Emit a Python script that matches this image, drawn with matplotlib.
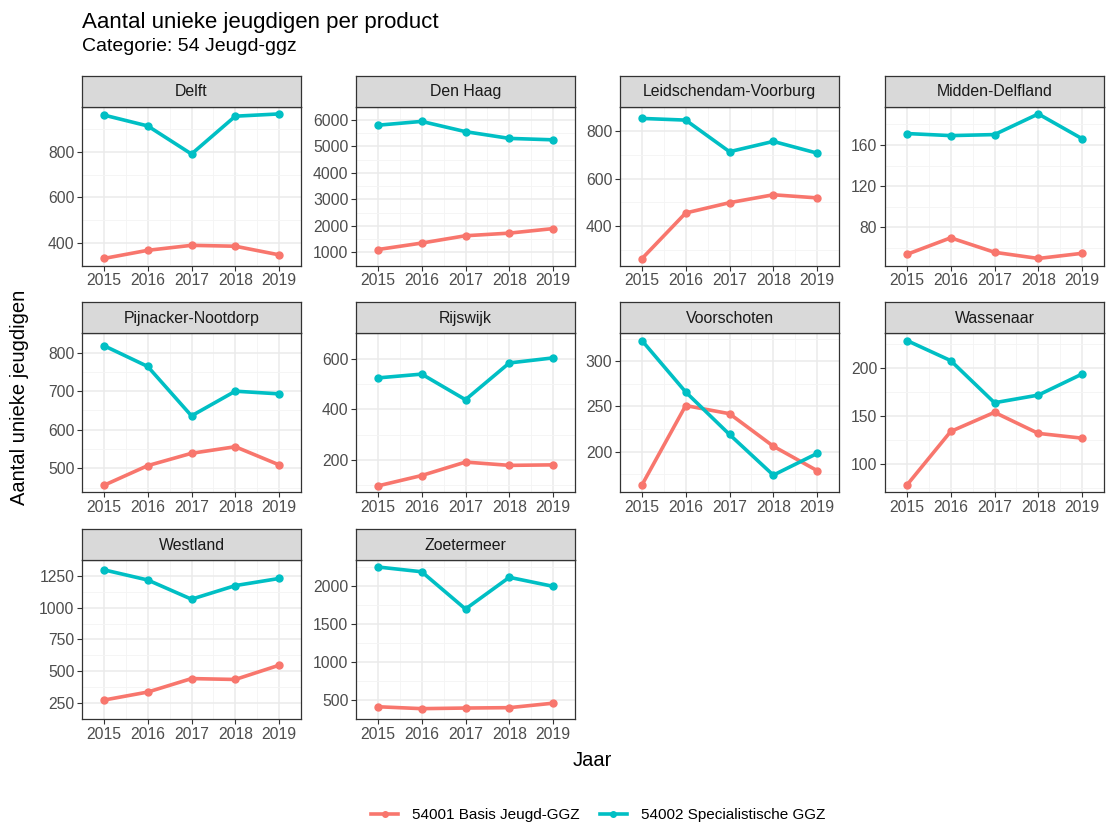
import numpy as np
import matplotlib
matplotlib.use("Agg")
import matplotlib.pyplot as plt
from matplotlib.lines import Line2D

plt.rcParams['font.family'] = ['Liberation Sans', 'DejaVu Sans']

jaren = [2015, 2016, 2017, 2018, 2019]
gemeenten = ['Delft', 'Den Haag', 'Leidschendam-Voorburg', 'Midden-Delfland',
             'Pijnacker-Nootdorp', 'Rijswijk', 'Voorschoten', 'Wassenaar',
             'Westland', 'Zoetermeer']
producten = ['54001 Basis Jeugd-GGZ', '54002 Specialistische GGZ']

# 54001 Basis Jeugd-GGZ
basis = {
    'Delft': [330, 366, 388, 384, 346],
    'Den Haag': [1110, 1354, 1630, 1729, 1900],
    'Leidschendam-Voorburg': [265, 456, 499, 532, 519],
    'Midden-Delfland': [54, 70, 56, 50, 55],
    'Pijnacker-Nootdorp': [456, 507, 539, 556, 509],
    'Rijswijk': [98, 139, 192, 179, 181],
    'Voorschoten': [163, 251, 242, 206, 179],
    'Wassenaar': [78, 134, 154, 132, 127],
    'Westland': [273, 336, 442, 435, 547],
    'Zoetermeer': [410, 385, 393, 398, 457],
}
# 54002 Specialistische GGZ
specialistisch = {
    'Delft': [963, 915, 791, 958, 968],
    'Den Haag': [5802, 5945, 5558, 5304, 5250],
    'Leidschendam-Voorburg': [851, 844, 712, 755, 706],
    'Midden-Delfland': [171, 169, 170, 190, 166],
    'Pijnacker-Nootdorp': [818, 764, 636, 700, 693],
    'Rijswijk': [524, 539, 438, 583, 603],
    'Voorschoten': [323, 266, 219, 174, 198],
    'Wassenaar': [229, 208, 164, 172, 194],
    'Westland': [1297, 1217, 1066, 1173, 1229],
    'Zoetermeer': [2251, 2188, 1697, 2115, 1996],
}
y_ticks = {
    'Delft': [400, 600, 800],
    'Den Haag': [1000, 2000, 3000, 4000, 5000, 6000],
    'Leidschendam-Voorburg': [400, 600, 800],
    'Midden-Delfland': [80, 120, 160],
    'Pijnacker-Nootdorp': [500, 600, 700, 800],
    'Rijswijk': [200, 400, 600],
    'Voorschoten': [200, 250, 300],
    'Wassenaar': [100, 150, 200],
    'Westland': [250, 500, 750, 1000, 1250],
    'Zoetermeer': [500, 1000, 1500, 2000],
}

kleuren = ['#F8766D', '#00BFC4']

W, H = 1119, 825
fig = plt.figure(figsize=(W / 100, H / 100), dpi=100)

col_left = [82, 356, 620, 885]
panel_w = 219
strip_top = 75.7
strip_h = 31
panel_h = 159
row_step = 226.6


def px_box(x, y, w, h):
    return [x / W, 1 - (y + h) / H, w / W, h / H]


for i, g in enumerate(gemeenten):
    r, c = divmod(i, 4)
    top = strip_top + r * row_step
    ax = fig.add_axes(px_box(col_left[c], top + strip_h, panel_w, panel_h))
    sax = fig.add_axes(px_box(col_left[c], top, panel_w, strip_h))

    for vals, kl in zip([basis[g], specialistisch[g]], kleuren):
        ax.plot(jaren, vals, color=kl, lw=2.6, marker='o', ms=5, zorder=3,
                solid_capstyle='butt')

    alle = basis[g] + specialistisch[g]
    lo, hi = min(alle), max(alle)
    pad = (hi - lo) * 0.05
    ax.set_ylim(lo - pad, hi + pad)
    ax.set_xlim(2015 - 0.2, 2019 + 0.2)

    yt = y_ticks[g]
    ax.set_yticks(yt)
    stap = yt[1] - yt[0]
    ax.set_yticks([yt[0] - stap / 2] + [t + stap / 2 for t in yt], minor=True)
    ax.set_xticks(jaren)
    ax.set_xticks([2014.5 + k for k in range(6)], minor=True)
    ax.grid(which='major', color='#EBEBEB', lw=1.1, zorder=0)
    ax.grid(which='minor', color='#F4F4F4', lw=0.6, zorder=0)
    ax.set_axisbelow(True)
    ax.tick_params(which='major', length=3.5, width=0.8, color='#333333',
                   labelsize=11.3, labelcolor='#4D4D4D', pad=2)
    ax.tick_params(which='minor', length=0)
    for s in ax.spines.values():
        s.set_color('#333333')
        s.set_linewidth(0.9)

    sax.set_facecolor('#D9D9D9')
    sax.set_xticks([])
    sax.set_yticks([])
    for s in sax.spines.values():
        s.set_color('#333333')
        s.set_linewidth(0.9)
    sax.text(0.5, 0.48, g, ha='center', va='center', fontsize=11.4,
             color='#1A1A1A', transform=sax.transAxes)

fig.text(82 / W, 1 - 28 / H, 'Aantal unieke jeugdigen per product',
         fontsize=16, ha='left', va='baseline')
fig.text(82 / W, 1 - 51 / H, 'Categorie: 54 Jeugd-ggz',
         fontsize=14, ha='left', va='baseline')
fig.text(20 / W, 1 - 397 / H, 'Aantal unieke jeugdigen', rotation=90,
         fontsize=14.5, ha='center', va='center')
fig.text(592 / W, 1 - 760 / H, 'Jaar', fontsize=14.5, ha='center',
         va='center')

handles = [Line2D([], [], color=k, lw=2.6, marker='o', ms=4) for k in kleuren]
fig.legend(handles, producten, loc='center', ncol=2,
           bbox_to_anchor=(598 / W, 1 - 815 / H), frameon=False,
           fontsize=11, handlelength=1.8, columnspacing=1.3,
           handletextpad=0.9)

fig.savefig('out.png', dpi=100)
